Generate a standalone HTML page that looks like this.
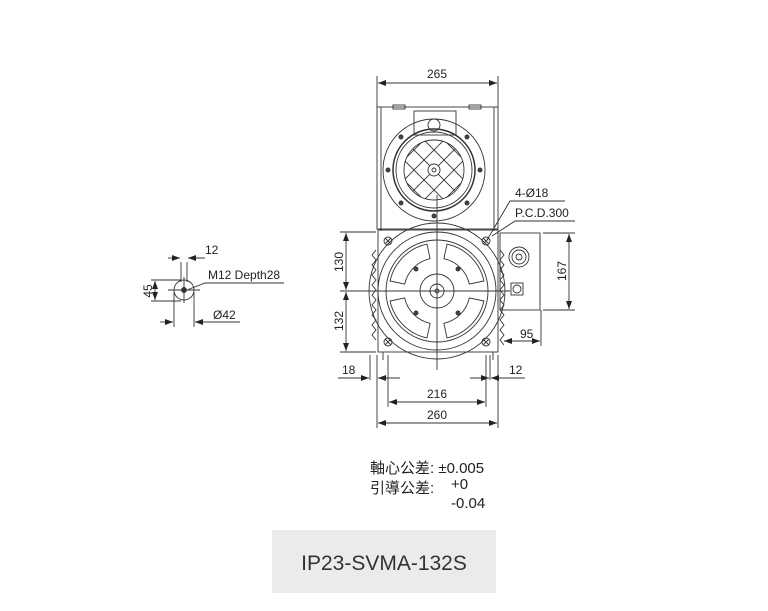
<!DOCTYPE html>
<html><head><style>
html,body{margin:0;padding:0;background:#fff;}
svg{display:block;}
text{font-family:"Liberation Sans",Arial,sans-serif;fill:#222;}
</style></head><body>
<svg width="768" height="611" viewBox="0 0 768 611" xmlns="http://www.w3.org/2000/svg">
<defs>
<marker id="a" markerWidth="8" markerHeight="6" refX="8" refY="3" orient="auto-start-reverse" markerUnits="userSpaceOnUse"><path d="M0,0 L8,3 L0,6 z" fill="#222"/></marker>
<path id="win" d="M483.9,301 A48 48 0 0 1 447,337.9 L443.9,323.3 A33 33 0 0 0 469.3,297.9 Z"/>
</defs>
<g stroke="#333" stroke-width="0.9" fill="none">
<line x1="377" y1="76" x2="377" y2="108"/><line x1="498" y1="76" x2="498" y2="108"/>
<line x1="378" y1="83" x2="497" y2="83" marker-start="url(#a)" marker-end="url(#a)"/>
<rect x="377" y="107" width="121" height="122"/>
<line x1="381" y1="107" x2="381" y2="231"/><line x1="494" y1="107" x2="494" y2="231"/>
<rect x="393" y="105" width="12" height="4"/><rect x="469" y="105" width="12" height="4"/>
<rect x="414" y="111" width="42" height="24"/>
<circle cx="434" cy="125" r="6"/>
<circle cx="434" cy="170" r="51"/>
<circle cx="434" cy="170" r="41" stroke-width="1.5"/>
<circle cx="434" cy="170" r="38"/>
<circle cx="434" cy="170" r="30"/>
<g clip-path="url(#cg)">
<clipPath id="cg"><circle cx="434" cy="170" r="30"/></clipPath>
<path d="M394,150 l80,80 M394,130 l80,80 M394,110 l80,80 M404,100 l70,70 M384,160 l60,60 M474,150 l-80,80 M474,130 l-80,80 M474,110 l-80,80 M464,100 l-70,70 M484,160 l-60,60"/>
</g>
<circle cx="434" cy="170" r="6" fill="#fff"/><circle cx="434" cy="170" r="2"/>
<g fill="#444"><circle cx="401" cy="137" r="2"/><circle cx="467" cy="137" r="2"/><circle cx="388" cy="170" r="2"/><circle cx="480" cy="170" r="2"/><circle cx="401" cy="203" r="2"/><circle cx="467" cy="203" r="2"/><circle cx="434" cy="216" r="2"/></g>
<line x1="437" y1="195" x2="437" y2="370"/>
<rect x="378" y="230" width="120" height="122"/>
<line x1="383" y1="352" x2="383" y2="360"/><line x1="493" y1="352" x2="493" y2="360"/>
<circle cx="437" cy="291" r="68"/>
<circle cx="437" cy="291" r="59"/>
<circle cx="437" cy="291" r="51"/>
<use href="#win"/>
<use href="#win" transform="rotate(90 437 291)"/>
<use href="#win" transform="rotate(180 437 291)"/>
<use href="#win" transform="rotate(270 437 291)"/>
<circle cx="437" cy="291" r="17"/>
<circle cx="437" cy="291" r="7"/>
<circle cx="437" cy="291" r="2"/>
<g fill="#444"><circle cx="416" cy="269" r="2"/><circle cx="458" cy="269" r="2"/><circle cx="416" cy="313" r="2"/><circle cx="458" cy="313" r="2"/></g>
<g><circle cx="388" cy="241" r="4"/><circle cx="486" cy="241" r="4"/><circle cx="388" cy="342" r="4"/><circle cx="486" cy="342" r="4"/>
<path d="M385,238 l6,6 M391,238 l-6,6 M483,238 l6,6 M489,238 l-6,6 M385,339 l6,6 M391,339 l-6,6 M483,339 l6,6 M489,339 l-6,6"/></g>
<path d="M376,250 l-4,5 l4,5 l-4,5 l4,5 l-4,5 l4,5 l-4,5 l4,5 l-4,5 l4,5 l-4,5 l4,5 l-4,5 l4,5 l-4,5 l4,5 l-4,5 l4,5"/>
<path d="M500,250 l4,5 l-4,5 l4,5 l-4,5 l4,5 l-4,5 l4,5 l-4,5 l4,5 l-4,5 l4,5 l-4,5 l4,5 l-4,5 l4,5 l-4,5 l4,5 l-4,5 l4,5"/>
<line x1="340" y1="291" x2="510" y2="291"/>
<rect x="500" y="233" width="40" height="77"/>
<line x1="540" y1="236" x2="540" y2="305"/>
<circle cx="519" cy="257" r="10"/><circle cx="519" cy="257" r="7"/><circle cx="519" cy="257" r="3"/>
<rect x="511" y="283" width="12" height="12"/><circle cx="517" cy="289" r="4"/>
<line x1="543" y1="233" x2="575" y2="233"/><line x1="543" y1="310" x2="575" y2="310"/>
<line x1="569" y1="234" x2="569" y2="309" marker-start="url(#a)" marker-end="url(#a)"/>
<line x1="541" y1="310" x2="541" y2="346"/>
<line x1="504" y1="341" x2="540" y2="341" marker-start="url(#a)" marker-end="url(#a)"/>
<polyline points="487,240 510,201 565,201"/>
<polyline points="492,236 515,221 575,221"/>
<line x1="340" y1="232" x2="376" y2="232"/><line x1="340" y1="352" x2="376" y2="352"/>
<line x1="346" y1="233" x2="346" y2="290" marker-start="url(#a)" marker-end="url(#a)"/>
<line x1="346" y1="292" x2="346" y2="351" marker-start="url(#a)" marker-end="url(#a)"/>
<line x1="370" y1="355" x2="370" y2="380"/><line x1="377" y1="355" x2="377" y2="428"/>
<line x1="388" y1="355" x2="388" y2="407"/><line x1="486" y1="355" x2="486" y2="407"/>
<line x1="490" y1="355" x2="490" y2="380"/><line x1="498" y1="355" x2="498" y2="428"/>
<line x1="338" y1="378" x2="369" y2="378" marker-end="url(#a)"/><line x1="400" y1="378" x2="378" y2="378" marker-end="url(#a)"/>
<line x1="470" y1="378" x2="489" y2="378" marker-end="url(#a)"/><line x1="525" y1="378" x2="491" y2="378" marker-end="url(#a)"/>
<line x1="389" y1="402" x2="485" y2="402" marker-start="url(#a)" marker-end="url(#a)"/>
<line x1="378" y1="423" x2="497" y2="423" marker-start="url(#a)" marker-end="url(#a)"/>
<circle cx="184" cy="290" r="10"/>
<circle cx="184" cy="290" r="2.5" fill="#333"/>
<line x1="168" y1="290" x2="200" y2="290"/><line x1="184" y1="277" x2="184" y2="303"/>
<line x1="181" y1="262" x2="181" y2="282"/><line x1="187" y1="262" x2="187" y2="282"/>
<line x1="168" y1="258" x2="180" y2="258" marker-end="url(#a)"/><line x1="205" y1="258" x2="188" y2="258" marker-end="url(#a)"/>
<line x1="151" y1="280" x2="181" y2="280"/><line x1="151" y1="301" x2="181" y2="301"/>
<line x1="155" y1="281" x2="155" y2="300" marker-start="url(#a)" marker-end="url(#a)"/>
<line x1="174" y1="292" x2="174" y2="327"/><line x1="194" y1="292" x2="194" y2="327"/>
<line x1="160" y1="322" x2="173" y2="322" marker-end="url(#a)"/><line x1="240" y1="322" x2="195" y2="322" marker-end="url(#a)"/>
<polyline points="187,290 205,283 284,283"/>
</g>
<g font-size="12">
<text x="437" y="78" text-anchor="middle">265</text>
<text x="515" y="197">4-Ø18</text>
<text x="515" y="217">P.C.D.300</text>
<text x="520" y="338">95</text>
<text x="437" y="398" text-anchor="middle">216</text>
<text x="437" y="419" text-anchor="middle">260</text>
<text x="342" y="374">18</text>
<text x="509" y="374">12</text>
<text x="205" y="254">12</text>
<text x="208" y="279">M12 Depth28</text>
<text x="213" y="319">Ø42</text>
<text transform="translate(343,262) rotate(-90)" text-anchor="middle">130</text>
<text transform="translate(343,321) rotate(-90)" text-anchor="middle">132</text>
<text transform="translate(566,271) rotate(-90)" text-anchor="middle">167</text>
<text transform="translate(152,291) rotate(-90)" text-anchor="middle">45</text>
</g>
<g font-size="15" style="font-family:'Liberation Sans','Noto Sans CJK TC',sans-serif">
<text x="370" y="473">軸心公差: ±0.005</text>
<text x="370" y="493">引導公差:</text>
<text x="451" y="489">+0</text>
<text x="451" y="508">-0.04</text>
</g>
<rect x="272" y="530" width="224" height="63" fill="#ebebeb"/>
<text x="384" y="570" text-anchor="middle" font-size="21" style="fill:#333">IP23-SVMA-132S</text>
</svg>
</body></html>
